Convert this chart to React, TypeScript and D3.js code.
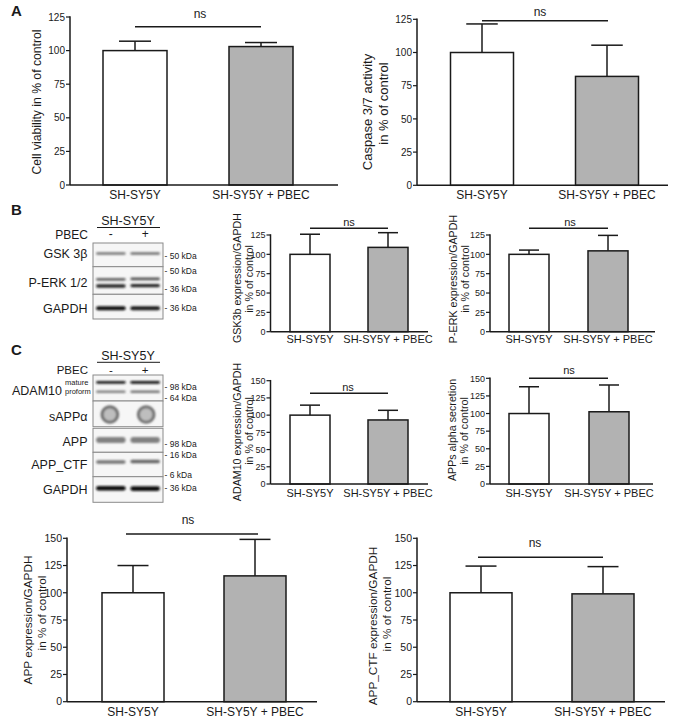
import React from "react";
import * as d3 from "d3";

// ---------------- DATA ----------------
const groups = ["SH-SY5Y", "SH-SY5Y + PBEC"];
const significance = "ns";

const viabilityMean = [100, 103];
const viabilityErr = [7, 3];
const caspaseMean = [100, 82];
const caspaseErr = [21.5, 23.5];
const gskMean = [100, 109];
const gskErr = [26, 19];
const perkMean = [100, 104.5];
const perkErr = [5.5, 20];
const adamMean = [100, 93];
const adamErr = [14.5, 14];
const sappMean = [100, 102.5];
const sappErr = [38, 38];
const appMean = [100, 115.5];
const appErr = [25, 33.5];
const ctfMean = [100, 99];
const ctfErr = [24.5, 25];

const ticks125 = [0, 25, 50, 75, 100, 125];
const ticks150 = [0, 25, 50, 75, 100, 125, 150];

const yLabels = {
  viability: ["Cell viability in % of control"],
  caspase: ["Caspase 3/7 activity", "in % of control"],
  gsk: ["GSK3b expression/GAPDH", "in % of control"],
  perk: ["P-ERK expression/GAPDH", "in % of control"],
  adam: ["ADAM10 expression/GAPDH", "in % of control"],
  sapp: ["APPs alpha secretion", "in % of control"],
  app: ["APP expression/GAPDH", "in % of control"],
  ctf: ["APP_CTF expression/GAPDH", "in % of control"],
};

// Blot data
const blotCell = "SH-SY5Y";
const blotTreatment = "PBEC";
const lanes = ["-", "+"];
const blotBLabels = ["GSK 3β", "P-ERK 1/2", "GAPDH"];
const blotBMarkers = ["- 50 kDa", "- 50 kDa", "- 36 kDa", "- 36 kDa"];
const blotCLabels = ["ADAM10", "sAPPα", "APP", "APP_CTF", "GAPDH"];
const blotCMarkers = ["- 98 kDa", "- 64 kDa", "- 98 kDa", "- 16 kDa", "- 6 kDa", "- 36 kDa"];
const adamForms = ["mature", "proform"];
// band intensities per lane (0..1 darkness)
const gskBand = [0.55, 0.58];
const perkUpperBand = [0.62, 0.7];
const perkLowerBand = [0.85, 0.85];
const gapdhBBand = [0.95, 0.9];
const adamMatureBand = [0.88, 0.95];
const adamProBand = [0.5, 0.55];
const sappRing = [0.6, 0.58];
const appBand = [0.5, 0.5];
const ctfBand = [0.55, 0.62];
const gapdhCBand = [0.95, 0.95];

// ---------------- LAYOUT ----------------
const L = {
  viability: { axisX: 70, xEnd: 338, yTop: 17, y0: 185, max: 125, ticks: ticks125, centers: [135, 261], bw: 64, nsLine: [135, 261], nsY: 26.7, nsText: [200, 18], nsSize: 12, tickSize: 10, labSize: 12.2, xlabY: 199, xlabSize: 12, yLab: [[37, 102]] },
  caspase: { axisX: 417, xEnd: 668, yTop: 19.3, y0: 185.3, max: 125, ticks: ticks125, centers: [482, 607], bw: 63, nsLine: [482, 608], nsY: 20.7, nsText: [540, 16], nsSize: 12, tickSize: 10, labSize: 13, xlabY: 199, xlabSize: 12, yLab: [[367, 112], [383, 103.5]] },
  gsk: { axisX: 270.5, xEnd: 428, yTop: 235, y0: 331.7, max: 125, ticks: ticks125, centers: [310, 388], bw: 40, nsLine: [310, 388], nsY: 228.3, nsText: [349, 225.5], nsSize: 11, tickSize: 9, labSize: 10.7, xlabY: 343.3, xlabSize: 11, yLab: [[237, 278], [249, 279]] },
  perk: { axisX: 490, xEnd: 655, yTop: 235, y0: 331.7, max: 125, ticks: ticks125, centers: [529, 608], bw: 40, nsLine: [529, 608], nsY: 228.3, nsText: [570, 225.5], nsSize: 11, tickSize: 9, labSize: 10.7, xlabY: 343.3, xlabSize: 11, yLab: [[453, 279], [465, 279]] },
  adam: { axisX: 270.5, xEnd: 428, yTop: 380.7, y0: 484, max: 150, ticks: ticks150, centers: [310, 388], bw: 40, nsLine: [310, 388], nsY: 393.3, nsText: [348, 390.5], nsSize: 11, tickSize: 9, labSize: 10.7, xlabY: 497, xlabSize: 11, yLab: [[237, 432], [249, 431]] },
  sapp: { axisX: 490, xEnd: 653, yTop: 378.3, y0: 484, max: 150, ticks: ticks150, centers: [529, 609], bw: 40, nsLine: [529, 608], nsY: 378.3, nsText: [569, 374], nsSize: 11, tickSize: 9, labSize: 10.7, xlabY: 497, xlabSize: 11, yLab: [[452, 430], [464, 431]] },
  app: { axisX: 67, xEnd: 317, yTop: 538.3, y0: 701.7, max: 150, ticks: ticks150, centers: [133, 255], bw: 62, nsLine: [126, 258], nsY: 534, nsText: [188, 524], nsSize: 12, tickSize: 10.5, labSize: 11.8, xlabY: 716, xlabSize: 12, yLab: [[28, 620], [42, 613]] },
  ctf: { axisX: 417, xEnd: 665, yTop: 538.3, y0: 701.7, max: 150, ticks: ticks150, centers: [481, 603], bw: 62, nsLine: [478, 603], nsY: 557.3, nsText: [535, 546.5], nsSize: 12, tickSize: 10.5, labSize: 11.8, xlabY: 716, xlabSize: 12, yLab: [[373, 626], [387, 614]] },
};

const INK = "#1a1a1a";
const GRAY = "#b2b2b2";
const FONT = "'Liberation Sans', Arial, Helvetica, sans-serif";

type Cfg = typeof L.viability;

function BarPanel({ cfg, mean, err, labels }: { cfg: Cfg; mean: number[]; err: number[]; labels: string[] }) {
  const y = d3.scaleLinear().domain([0, cfg.max]).range([cfg.y0, cfg.yTop]);
  const x = d3.scalePoint<string>().domain(groups).range(cfg.centers as [number, number]);
  const sw = 1.5;
  return (
    <g>
      {groups.map((g, i) => {
        const cx = x(g)!;
        const top = y(mean[i]);
        const et = y(mean[i] + err[i]);
        const cap = cfg.bw / 4;
        return (
          <g key={g}>
            <line x1={cx} x2={cx} y1={top} y2={et} stroke={INK} strokeWidth={sw} />
            <line x1={cx - cap} x2={cx + cap} y1={et} y2={et} stroke={INK} strokeWidth={sw} />
            <rect x={cx - cfg.bw / 2} y={top} width={cfg.bw} height={cfg.y0 - top} fill={i === 0 ? "#fff" : GRAY} stroke={INK} strokeWidth={sw} />
            <text x={cx} y={cfg.xlabY} fontSize={cfg.xlabSize} textAnchor="middle" fill={INK}>{g}</text>
          </g>
        );
      })}
      {/* axes */}
      <line x1={cfg.axisX} x2={cfg.axisX} y1={y(cfg.max) - 0.75} y2={cfg.y0} stroke={INK} strokeWidth={sw} />
      <line x1={cfg.axisX} x2={cfg.xEnd} y1={cfg.y0} y2={cfg.y0} stroke={INK} strokeWidth={sw} />
      {cfg.ticks.map((t) => (
        <g key={t}>
          <line x1={cfg.axisX - 4} x2={cfg.axisX} y1={y(t)} y2={y(t)} stroke={INK} strokeWidth={1.2} />
          <text x={cfg.axisX - 5} y={y(t) + cfg.tickSize * 0.36} fontSize={cfg.tickSize} textAnchor="end" fill={INK}>{t}</text>
        </g>
      ))}
      {/* significance */}
      <line x1={cfg.nsLine[0]} x2={cfg.nsLine[1]} y1={cfg.nsY} y2={cfg.nsY} stroke={INK} strokeWidth={sw} />
      <text x={cfg.nsText[0]} y={cfg.nsText[1]} fontSize={cfg.nsSize} textAnchor="middle" fill={INK}>{significance}</text>
      {/* y label */}
      {labels.map((lab, i) => {
        const [cx, cy] = cfg.yLab[i];
        return (
          <text key={i} transform={`translate(${cx + cfg.labSize * 0.36},${cy}) rotate(-90)`} fontSize={cfg.labSize} textAnchor="middle" fill={INK}>{lab}</text>
        );
      })}
    </g>
  );
}

// ---------------- BLOTS ----------------
const blotX: [number, number] = [93, 163];
const laneScale = d3.scaleBand<string>().domain(lanes).range(blotX).paddingInner(0.08).paddingOuter(0.06);
const shade = (v: number) => d3.interpolateGreys(0.15 + v * 0.85);

function Band({ y, level, t, wobble = 0 }: { y: number; level: number[]; t: number; wobble?: number }) {
  return (
    <g filter="url(#bandBlur)">
      {lanes.map((ln, i) => {
        const x0 = laneScale(ln)!;
        const w = laneScale.bandwidth();
        const yy = y + (i === 1 ? wobble : 0);
        return <rect key={ln} x={x0 + 1} y={yy - t / 2} width={w - 2} height={t} rx={t / 2} fill={shade(level[i])} />;
      })}
    </g>
  );
}

function BlotBox({ y0, y1 }: { y0: number; y1: number }) {
  return <rect x={blotX[0]} y={y0} width={blotX[1] - blotX[0]} height={y1 - y0} fill="#f6f6f6" stroke="#8a8a8a" strokeWidth={1} />;
}

function BlotHeader({ titleY, pbecY, size }: { titleY: number; pbecY: number; size: number }) {
  return (
    <g>
      <text x={128} y={titleY} fontSize={12.5} textAnchor="middle" fill={INK}>{blotCell}</text>
      <line x1={97} x2={160} y1={titleY + 2.5} y2={titleY + 2.5} stroke={INK} strokeWidth={1} />
      <text x={88} y={pbecY} fontSize={size} textAnchor="end" fill={INK}>{blotTreatment}</text>
      {lanes.map((ln) => (
        <text key={ln} x={laneScale(ln)! + laneScale.bandwidth() / 2} y={pbecY - 0.5} fontSize={size} textAnchor="middle" fill={INK}>{ln}</text>
      ))}
    </g>
  );
}

function BlotB() {
  const rows = [[243, 266.7], [266.7, 294.3], [294.3, 319]];
  const labelY = [257.5, 287, 312.5];
  const markerY = [256, 270.7, 289.3, 308.3];
  return (
    <g>
      <BlotHeader titleY={225} pbecY={238.5} size={12} />
      {rows.map(([a, b], i) => <BlotBox key={i} y0={a} y1={b} />)}
      <Band y={253.5} level={gskBand} t={2.6} />
      <Band y={279.3} level={perkUpperBand} t={2.8} wobble={-0.5} />
      <Band y={286} level={perkLowerBand} t={3.4} wobble={-0.4} />
      <Band y={308.3} level={gapdhBBand} t={4} />
      {blotBLabels.map((lab, i) => (
        <text key={lab} x={87.5} y={labelY[i]} fontSize={12.5} textAnchor="end" fill={INK}>{lab}</text>
      ))}
      {blotBMarkers.map((m, i) => (
        <text key={i} x={164.5} y={markerY[i] + 3} fontSize={8.5} fill={INK}>{m}</text>
      ))}
    </g>
  );
}

function BlotC() {
  const rows = [[375, 401], [401, 426.7], [428.3, 452.3], [452.3, 476.7], [476.7, 502.3]];
  const labelY = [394.5, 420.5, 446, 468.5, 493.5];
  const markerY = [386.7, 398.3, 444, 455, 475, 488.3];
  return (
    <g>
      <BlotHeader titleY={359.8} pbecY={374} size={11.5} />
      {rows.map(([a, b], i) => <BlotBox key={i} y0={a} y1={b} />)}
      <Band y={382.3} level={adamMatureBand} t={2.8} />
      <Band y={391.7} level={adamProBand} t={2.5} />
      <g filter="url(#bandBlur)">
        {lanes.map((ln, i) => (
          <circle key={ln} cx={laneScale(ln)! + laneScale.bandwidth() / 2 + (i === 0 ? -1 : 1)} cy={414.5} r={7.8} fill={shade(0.25)} stroke={shade(sappRing[i])} strokeWidth={3} />
        ))}
      </g>
      <Band y={440} level={appBand} t={6} />
      <Band y={462} level={ctfBand} t={3.6} wobble={-0.5} />
      <Band y={488.3} level={gapdhCBand} t={4.6} wobble={0.3} />
      {blotCLabels.map((lab, i) => (
        <text key={lab} x={i === 0 ? 62 : 87.5} y={labelY[i]} fontSize={12.5} textAnchor="end" fill={INK}>{lab}</text>
      ))}
      <text x={65} y={385} fontSize={7.5} fill={INK}>{adamForms[0]}</text>
      <text x={65} y={394} fontSize={7.5} fill={INK}>{adamForms[1]}</text>
      {blotCMarkers.map((m, i) => (
        <text key={i} x={164.5} y={markerY[i] + 3} fontSize={8.5} fill={INK}>{m}</text>
      ))}
    </g>
  );
}

export default function App() {
  return (
    <svg width={674} height={718} viewBox="0 0 674 718" style={{ position: "absolute", left: 0, top: 0, background: "#fff" }} fontFamily={FONT}>
      <defs>
        <filter id="bandBlur" x="-20%" y="-100%" width="140%" height="300%">
          <feGaussianBlur stdDeviation="0.8" />
        </filter>
      </defs>
      <rect width={674} height={718} fill="#fff" />
      <text x={11} y={16} fontSize={15} fontWeight="bold" fill={INK}>A</text>
      <text x={11} y={215} fontSize={15} fontWeight="bold" fill={INK}>B</text>
      <text x={11} y={355} fontSize={15} fontWeight="bold" fill={INK}>C</text>

      <BarPanel cfg={L.viability} mean={viabilityMean} err={viabilityErr} labels={yLabels.viability} />
      <BarPanel cfg={L.caspase} mean={caspaseMean} err={caspaseErr} labels={yLabels.caspase} />
      <BarPanel cfg={L.gsk} mean={gskMean} err={gskErr} labels={yLabels.gsk} />
      <BarPanel cfg={L.perk} mean={perkMean} err={perkErr} labels={yLabels.perk} />
      <BarPanel cfg={L.adam} mean={adamMean} err={adamErr} labels={yLabels.adam} />
      <BarPanel cfg={L.sapp} mean={sappMean} err={sappErr} labels={yLabels.sapp} />
      <BarPanel cfg={L.app} mean={appMean} err={appErr} labels={yLabels.app} />
      <BarPanel cfg={L.ctf} mean={ctfMean} err={ctfErr} labels={yLabels.ctf} />

      <BlotB />
      <BlotC />
    </svg>
  );
}
